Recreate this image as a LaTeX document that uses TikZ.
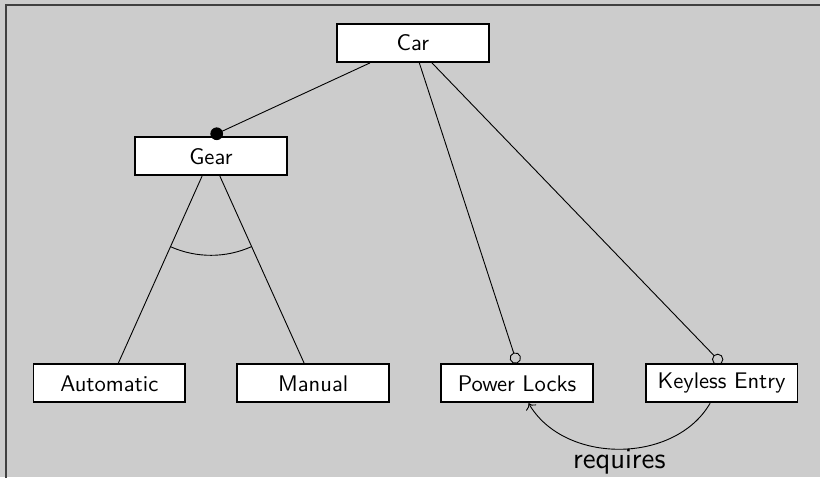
\documentclass[tikz,border=0pt]{standalone}
\usepackage{tikz}
\usetikzlibrary{arrows.meta}
\usetikzlibrary{angles}
\definecolor{fondgris}{gray}{0.8}
\begin{document}
\begin{tikzpicture}[font=\sffamily,
            feature/.style={draw,thick,fill=white,minimum width=2.36cm,minimum height=0.59cm,inner sep=0pt},
            obligatoire/.style={-{Circle[length=5.6pt]}},
            facultatif/.style={-{Circle[open,length=5pt]}}]
            \fill[fondgris] (0,0) rectangle (12.75,-7.42);
            \useasboundingbox (0,0) rectangle (12.75,-7.42);
            \draw[black!75,line width=1pt] (0.09,-7.6) |- (12.9,-0.08);
            \node[feature] (C) at (6.42,-0.67) {Car};
            \node[feature] (G) at (3.28,-2.43) {Gear};
            \node[feature] (A) at (1.70,-5.96) {Automatic};
            \node[feature] (M) at (4.87,-5.96) {Manual};
            \node[feature] (P) at (8.04,-5.96) {Power Locks};
            \node[feature] (K) at (11.22,-5.96) {Keyless Entry};
            \draw[obligatoire] (C) -- (G.north);
            \draw (G) -- (A);
            \draw (G) -- (M);
            \pic[draw,angle radius=1.54cm] {angle=A--G--M};
            \draw[facultatif] (C) -- (P.north);
            \draw[facultatif] (C) -- (K.north);
            \draw[->] (K) to[bend left=60] node[below,inner sep=0pt,font=\fontsize{13}{15}\sffamily] {requires} (P);
        \end{tikzpicture}
\end{document}
